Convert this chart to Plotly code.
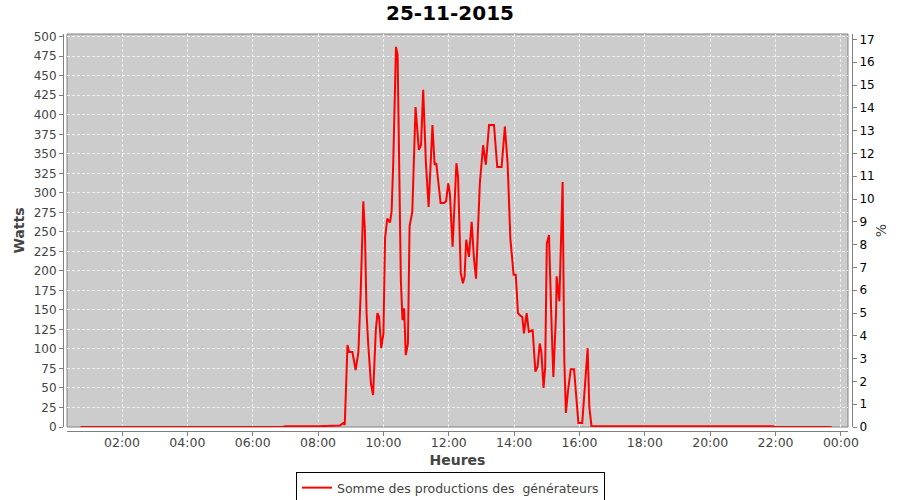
import plotly.graph_objects as go

DAY = "2015-11-25 "
TITLE = "25-11-2015"
SERIES_NAME = "Somme des productions des  générateurs"

times = [
    "00:44", "06:55", "07:00", "08:00", "08:40", "08:46", "08:49", "08:54", "08:57", "09:03",
    "09:09", "09:14", "09:18", "09:23", "09:26", "09:29", "09:32", "09:37", "09:41", "09:46",
    "09:49", "09:52", "09:56", "10:00", "10:03", "10:07", "10:12", "10:15", "10:18", "10:23",
    "10:26", "10:29", "10:32", "10:35", "10:38", "10:41", "10:45", "10:48", "10:53", "10:59",
    "11:05", "11:09", "11:13", "11:18", "11:23", "11:30", "11:34", "11:37", "11:45", "11:51",
    "11:55", "11:59", "12:02", "12:07", "12:14", "12:17", "12:22", "12:26", "12:29", "12:32",
    "12:37", "12:42", "12:46", "12:50", "12:57", "13:03", "13:08", "13:14", "13:23", "13:29",
    "13:37", "13:43", "13:48", "13:53", "13:59", "14:03", "14:07", "14:11", "14:15", "14:18",
    "14:23", "14:27", "14:34", "14:39", "14:43", "14:47", "14:50", "14:54", "14:57", "15:00",
    "15:04", "15:09", "15:12", "15:17", "15:18", "15:23", "15:29", "15:32", "15:35", "15:39",
    "15:44", "15:50", "15:53", "15:58", "16:05", "16:10", "16:15", "16:18", "16:22", "18:00",
    "20:00", "21:55", "22:00", "23:43",
]
watts = [
    0, 0, 1, 1, 2, 5, 3, 105, 96, 96,
    73, 96, 167, 289, 252, 146, 107, 56, 41, 124,
    146, 141, 101, 120, 242, 267, 262, 276, 338, 487,
    477, 338, 188, 137, 152, 92, 107, 257, 276, 410,
    355, 361, 432, 338, 282, 387, 336, 338, 287, 287,
    289, 312, 299, 231, 338, 321, 197, 184, 193, 240,
    218, 263, 218, 190, 312, 361, 336, 387, 387, 333,
    333, 385, 338, 242, 195, 195, 146, 143, 141, 120,
    146, 122, 124, 71, 77, 107, 96, 50, 77, 235,
    246, 124, 64, 146, 193, 161, 314, 88, 18, 47,
    74, 74, 50, 5, 5, 60, 101, 26, 1, 1,
    1, 1, 0, 0,
]
x_range = ["2015-11-25 00:19", "2015-11-26 00:13"]
watts_range = [0, 503.5]
pct_range = [0, 17.24]

FONT = "DejaVu Sans"
GRAY = "#808080"
LABEL = "#444444"

fig = go.Figure()
fig.add_trace(go.Scatter(
    x=[DAY + t for t in times], y=watts, mode="lines", name=SERIES_NAME,
    line=dict(color="#ff0000", width=2), showlegend=True,
))
# empty trace so the right-hand % axis is drawn
fig.add_trace(go.Scatter(x=[], y=[], yaxis="y2", mode="lines", showlegend=False,
                         hoverinfo="skip"))

W, H = 900, 500
ml, mt = 63, 34
mr, mb = W - 852, H - 431
pw, ph = W - ml - mr, H - mt - mb
GRID_DASH = "3px,2px"

fig.update_layout(
    width=W, height=H,
    margin=dict(l=ml, r=mr, t=mt, b=mb, pad=0, autoexpand=False),
    paper_bgcolor="white", plot_bgcolor="#cccccc",
    font=dict(family=FONT, size=12, color=LABEL),
    title=dict(text="<b>" + TITLE + "</b>", x=450 / W, xref="container", xanchor="center",
               y=1 - 13 / H, yref="container", yanchor="middle",
               font=dict(family=FONT, size=20, color="black")),
    xaxis=dict(
        type="date", range=x_range, domain=[4 / pw, (pw - 4) / pw],
        anchor="free", position=0,
        tick0="2015-11-25 00:00", dtick=7200000, tickformat="%H:%M",
        ticks="outside", ticklen=4, tickcolor=GRAY, ticklabelstandoff=-4,
        showline=True, linecolor=GRAY, linewidth=1,
        showgrid=True, gridcolor="#eeeeee", griddash=GRID_DASH, gridwidth=1,
        zeroline=False,
        tickfont=dict(family=FONT, size=12.5, color=LABEL),
        title=dict(text="<b>Heures</b>", font=dict(family=FONT, size=14, color=LABEL), standoff=6),
    ),
    yaxis=dict(
        range=watts_range, domain=[4 / ph, 1], anchor="free", position=0,
        dtick=25, tick0=0,
        ticks="outside", ticklen=4, tickcolor=GRAY,
        showline=True, linecolor=GRAY, linewidth=1,
        showgrid=True, gridcolor="#eeeeee", griddash=GRID_DASH, gridwidth=1,
        zeroline=False,
        tickfont=dict(family=FONT, size=12, color=LABEL),
        title=dict(text="<b>Watts</b>", font=dict(family=FONT, size=14, color=LABEL), standoff=4),
    ),
    yaxis2=dict(
        range=pct_range, domain=[4 / ph, 1], anchor="free", position=1,
        overlaying="y", side="right", dtick=1, tick0=0,
        ticks="outside", ticklen=4, tickcolor=GRAY,
        showline=True, linecolor=GRAY, linewidth=1,
        showgrid=False, zeroline=False,
        tickfont=dict(family=FONT, size=12, color="black"),
        title=dict(text="%", font=dict(family=FONT, size=14, color=LABEL), standoff=2),
    ),
    legend=dict(
        orientation="h", xref="container", x=450.5 / W, xanchor="center",
        yref="container", y=1 - 472 / H, yanchor="top",
        bgcolor="white", bordercolor="black", borderwidth=1,
        font=dict(family=FONT, size=12.5, color=LABEL),
        itemwidth=30,
    ),
    shapes=[dict(
        type="rect", xref="paper", yref="paper",
        x0=4 / pw, x1=(pw - 4) / pw, y0=4 / ph, y1=1,
        line=dict(color=GRAY, width=1), layer="between",
    )],
)

# remove the browser's default 8px page margin so the 900x500 figure fills the window
fig.write_html("out.html", config={"displayModeBar": False},
               post_script="document.body.style.margin='0';")
